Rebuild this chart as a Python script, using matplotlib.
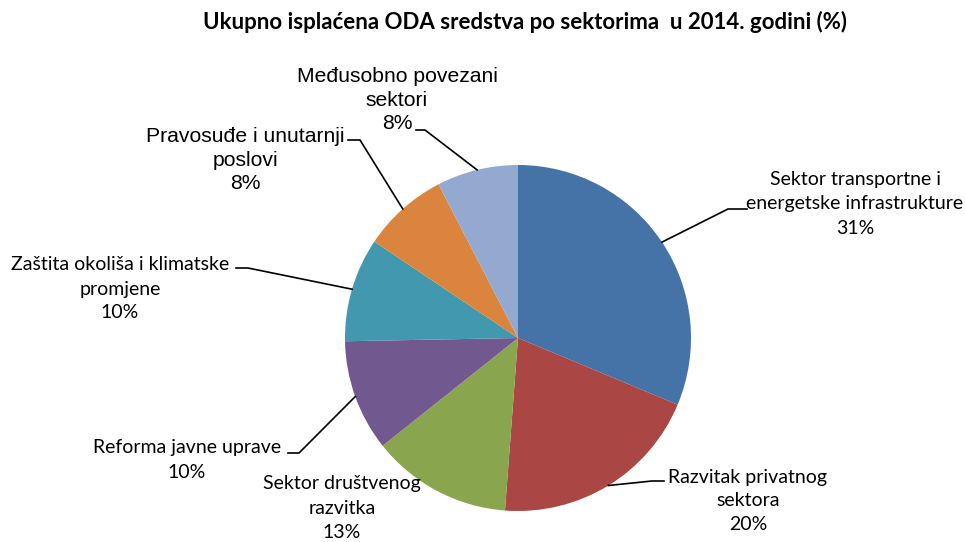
import numpy as np
import matplotlib
matplotlib.use("Agg")
import matplotlib.pyplot as plt

title = "Ukupno isplaćena ODA sredstva po sektorima  u 2014. godini (%)"
categories = [
    "Sektor transportne i\nenergetske infrastrukture",
    "Razvitak privatnog\nsektora",
    "Sektor društvenog\nrazvitka",
    "Reforma javne uprave",
    "Zaštita okoliša i klimatske\npromjene",
    "Pravosuđe i unutarnji\nposlovi",
    "Međusobno povezani\nsektori",
]
values = [31.3, 19.9, 13.1, 10.4, 9.7, 8.0, 7.6]
colors = ["#4572A7", "#AA4643", "#89A54E", "#71588F", "#4198AF", "#DB843D", "#93A9CF"]

W, H = 965, 542
fig = plt.figure(figsize=(W / 100, H / 100), dpi=100)
ax = fig.add_axes([0, 0, 1, 1])

def py(y):
    return H - y

cx, cy, R = 518, py(338), 173
ax.pie(values, colors=colors, startangle=90, counterclock=False,
       center=(cx, cy), radius=R, frame=True,
       wedgeprops=dict(linewidth=0))
ax.set_xlim(0, W)
ax.set_ylim(0, H)
ax.set_aspect("equal")
ax.axis("off")

fig.text(525 / W, 1 - 22 / H, title, ha="center", va="center",
         fontsize=16, fontweight="bold", family="Lato")

calibri = "Lato"
arial = "Liberation Sans"
# (x_center, y_center, font, size, linespacing, leader points [text end, elbow] or None)
layout = [
    (855, 204, calibri, 14, 1.5, [(747, 209), (728, 209)]),
    (748, 501, calibri, 14, 1.5, [(664, 481), (652, 481)]),
    (342, 508, calibri, 14, 1.5, None),
    (187, 460, calibri, 14, 1.5, [(288, 453), (299, 453)]),
    (120, 289, calibri, 14, 1.5, [(236, 268), (248, 268)]),
    (245, 160, arial, 15.2, 1.32, [(348, 140), (360, 140)]),
    (397, 100, arial, 15.2, 1.32, [(416, 130), (425, 130)]),
]

total = sum(values)
cum = 0.0
for cat, v, (lx, ly, fam, fs, ls, pts) in zip(categories, values, layout):
    mid = np.deg2rad(90 - (cum + v / 2) / total * 360)
    cum += v
    ax_, ay_ = cx + R * np.cos(mid), cy + R * np.sin(mid)
    label = f"{cat}\n{round(v):d}%"
    ax.text(lx, py(ly), label, ha="center", va="center", fontsize=fs,
            family=fam, linespacing=ls, color="black")
    if pts:
        xs = [pts[0][0], pts[1][0], ax_]
        ys = [py(pts[0][1]), py(pts[1][1]), ay_]
        ax.plot(xs, ys, color="black", lw=1.2)

fig.savefig("out.png", dpi=100)
